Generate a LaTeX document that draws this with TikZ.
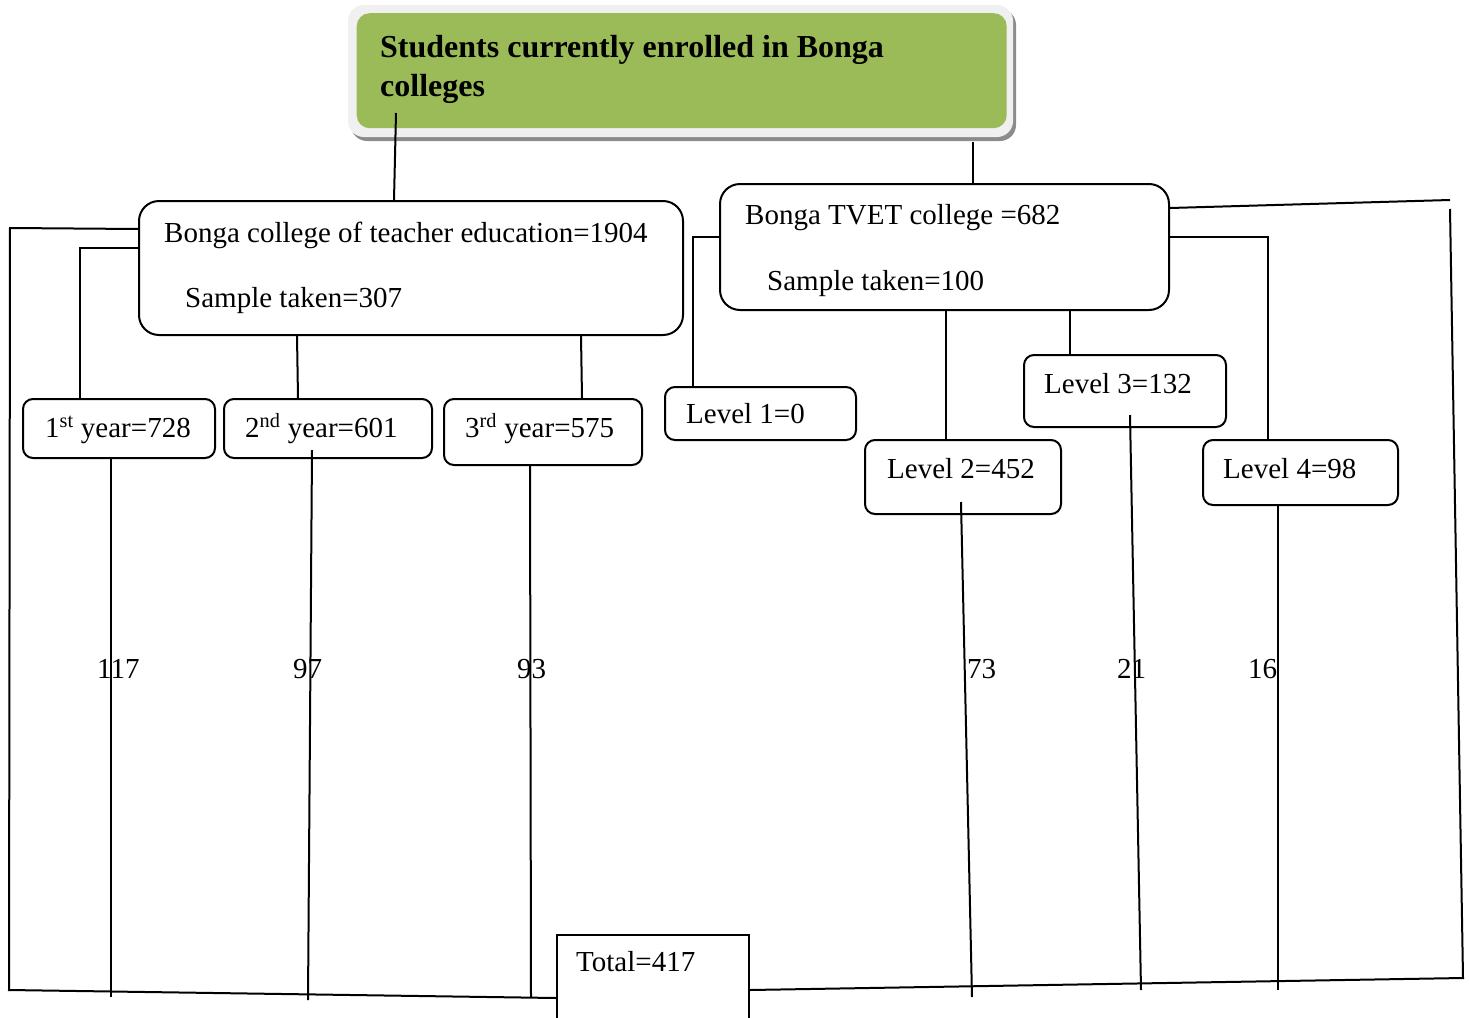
\documentclass[tikz,border=0pt]{standalone}
\usepackage{fontspec}
\setmainfont{Liberation Serif}
\usetikzlibrary{positioning}
\definecolor{titlegreen}{HTML}{9BBB59}
\newcommand\bodyfont{\fontsize{29}{34}\selectfont}
\newcommand\titlefont{\fontsize{32}{40}\selectfont\bfseries}

\begin{document}
\begin{tikzpicture}[x=1pt,y=-1pt,
  box/.style={draw,line width=2pt,rounded corners=20pt,inner sep=0pt,anchor=north west},
  sbox/.style={draw,line width=2pt,rounded corners=10pt,inner sep=0pt,anchor=north west},
  txt/.style={anchor=base west,inner sep=0pt,font=\bodyfont},
  conn/.style={line width=2pt}]
  \useasboundingbox (0,0) rectangle (1469,1017);
  % title with its frame and shadow
  \fill[rounded corners=16pt,black!45] (351,9) rectangle (1016,141);
  \fill[rounded corners=16pt,black!6] (348,5) rectangle (1013,137);
  \node[fill=titlegreen,rounded corners=13pt,anchor=north west,minimum width=650,minimum height=115,inner sep=0pt] (title) at (356.5,13) {};
  \node[anchor=base west,inner sep=0pt,font=\titlefont] (titleA) at (380,57) {Students currently enrolled in Bonga};
  \node[anchor=base west,inner sep=0pt,font=\titlefont] (titleB) at (380,96) {colleges};
  % colleges
  \node[box,minimum width=544,minimum height=134] (tce) at (138,200) {};
  \node[box,minimum width=449,minimum height=126] (tvet) at (719,183) {};
  \node[txt] (tceName) at (164,242) {Bonga college of teacher education=1904};
  \node[txt] (tceSample) at (185,307) {Sample taken=307};
  \node[txt] (tvetName) at (745,224) {Bonga TVET college =682};
  \node[txt] (tvetSample) at (767,290) {Sample taken=100};
  % years and levels
  \node[sbox,minimum width=192,minimum height=59] (y1) at (22,398) {};
  \node[sbox,minimum width=208,minimum height=59] (y2) at (223,398) {};
  \node[sbox,minimum width=198,minimum height=66] (y3) at (443,398) {};
  \node[sbox,minimum width=191,minimum height=53] (lv1) at (664,386) {};
  \node[sbox,minimum width=196,minimum height=74] (lv2) at (864,439) {};
  \node[sbox,minimum width=202,minimum height=72] (lv3) at (1023,354) {};
  \node[sbox,minimum width=195,minimum height=65] (lv4) at (1202,439) {};
  \node[txt] (y1txt) at (45,437) {1\textsuperscript{st} year=728};
  \node[txt] (y2txt) at (245,437) {2\textsuperscript{nd} year=601};
  \node[txt] (y3txt) at (465,437) {3\textsuperscript{rd} year=575};
  \node[txt] (lv1txt) at (686,423) {Level 1=0};
  \node[txt] (lv2txt) at (887,478) {Level 2=452};
  \node[txt] (lv3txt) at (1044,393) {Level 3=132};
  \node[txt] (lv4txt) at (1223,478) {Level 4=98};
  % total
  \node[draw,line width=2pt,inner sep=0pt,anchor=north west,minimum width=192,minimum height=110] (total) at (556,934) {};
  \node[txt] (totaltxt) at (576,971) {Total=417};
  % sample sizes
  \node[txt] (n117) at (97,678) {117};
  \node[txt] (n97) at (293,678) {97};
  \node[txt] (n93) at (517,678) {93};
  \node[txt] (n73) at (967,678) {73};
  \node[txt] (n21) at (1117,678) {21};
  \node[txt] (n16) at (1248,678) {16};
  % connectors
  \coordinate (tIn) at (396,113);
  \coordinate (frameTL) at (10,228);
  \coordinate (frameBL) at (9,990);
  \coordinate (frameTR) at (1450,209);
  \coordinate (frameBR) at (1463,978);
  \draw[conn] (tIn) -- (394,0 |- tce.north);
  \draw[conn] (973,142) -- (973,0 |- tvet.north);
  \draw[conn] (tce.west |- 0,229) -- (frameTL) -- (frameBL) -- (total.west |- 0,998);
  \draw[conn] (tce.west |- 0,248) -- (80,248) -- (80,0 |- y1.north);
  \draw[conn] (297,0 |- tce.south) -- (298,0 |- y2.north);
  \draw[conn] (581,0 |- tce.south) -- (582,0 |- y3.north);
  \draw[conn] (111,0 |- y1.south) -- (111,997);
  \draw[conn] (312,450) -- (308,1000);
  \draw[conn] (530,0 |- y3.south) -- (531,997);
  \draw[conn] (tvet.west |- 0,237) -- (693,237) -- (693,0 |- lv1.north);
  \draw[conn] (946,0 |- tvet.south) -- (946,0 |- lv2.north);
  \draw[conn] (1070,0 |- tvet.south) -- (1070,0 |- lv3.north);
  \draw[conn] (tvet.east |- 0,237) -- (1268,237) -- (1268,0 |- lv4.north);
  \draw[conn] (tvet.east |- 0,208) -- (1450,200);
  \draw[conn] (frameTR) -- (frameBR) -- (total.east |- 0,990);
  \draw[conn] (961,502) -- (972,997);
  \draw[conn] (1130,415) -- (1141,990);
  \draw[conn] (1278,0 |- lv4.south) -- (1278,990);
\end{tikzpicture}
\end{document}
